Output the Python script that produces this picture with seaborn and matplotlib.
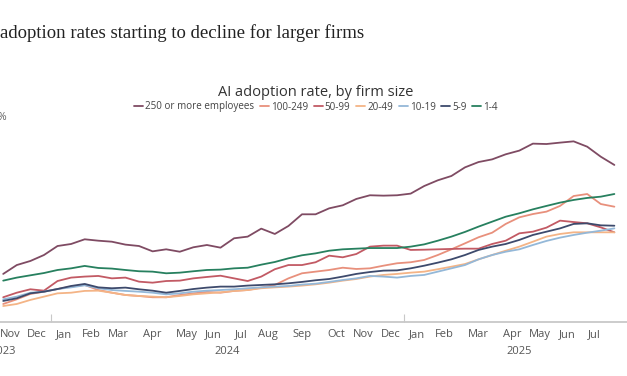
import numpy as np
import pandas as pd
import matplotlib
matplotlib.use("Agg")
import matplotlib.pyplot as plt
import matplotlib.transforms as mtransforms
import seaborn as sns

# biweekly survey points, Nov 2023 - Aug 2025 (values in %)
months = ["Nov", "Dec", "Jan", "Feb", "Mar", "Apr", "May", "Jun", "Jul", "Aug", "Sep",
          "Oct", "Nov", "Dec", "Jan", "Feb", "Mar", "Apr", "May", "Jun", "Jul", "Aug"]
points_per_month = [2, 2, 2, 2, 2, 3, 2, 2, 2, 2, 3, 2, 2, 2, 2, 2, 3, 2, 2, 2, 2, 1]
years = ["2023", "2024", "2025"]
year_centers = [0.0, 16.5, 38.0]

emp_250 = [3.63, 4.33, 4.65, 5.12, 5.83, 5.99, 6.36, 6.25, 6.17, 5.94, 5.83, 5.41, 5.57,
           5.38, 5.73, 5.91, 5.70, 6.44, 6.57, 7.20, 6.78, 7.41, 8.33, 8.33, 8.80, 9.04,
           9.54, 9.83, 9.80, 9.83, 9.96, 10.56, 11.01, 11.35, 12.03, 12.45, 12.66, 13.06,
           13.35, 13.90, 13.87, 13.98, 14.08, 13.66, 12.87, 12.22]
emp_100_249 = [1.26, 1.63, 2.05, 2.23, 2.44, 2.63, 2.76, 2.36, 2.15, 1.97, 1.89, 1.79, 1.79,
               1.97, 2.10, 2.21, 2.15, 2.29, 2.36, 2.55, 2.76, 3.28, 3.68, 3.81, 3.94, 4.12,
               4.02, 4.07, 4.28, 4.47, 4.55, 4.73, 5.12, 5.57, 6.04, 6.52, 6.88, 7.57, 8.09,
               8.35, 8.54, 8.99, 9.77, 9.93, 9.14, 8.93]
emp_50_99 = [1.79, 2.15, 2.42, 2.31, 3.07, 3.34, 3.42, 3.47, 3.28, 3.34, 3.02, 2.94, 3.07,
             3.10, 3.28, 3.39, 3.49, 3.28, 3.07, 3.42, 4.00, 4.33, 4.33, 4.55, 5.07, 4.94,
             5.20, 5.78, 5.86, 5.86, 5.52, 5.54, 5.57, 5.60, 5.62, 5.62, 5.99, 6.25, 6.83,
             6.96, 7.28, 7.83, 7.72, 7.62, 7.30, 6.91]
emp_20_49 = [1.10, 1.26, 1.58, 1.84, 2.10, 2.15, 2.29, 2.31, 2.15, 1.97, 1.89, 1.84, 1.79,
             1.89, 2.02, 2.10, 2.18, 2.29, 2.36, 2.50, 2.57, 2.63, 2.71, 2.81, 2.94, 3.10,
             3.23, 3.42, 3.55, 3.63, 3.73, 3.81, 4.00, 4.20, 4.41, 4.78, 5.12, 5.46, 5.78,
             6.17, 6.57, 6.78, 6.91, 6.91, 6.91, 6.91]
emp_10_19 = [1.63, 1.84, 2.15, 2.23, 2.44, 2.57, 2.73, 2.50, 2.36, 2.29, 2.23, 2.15, 2.02,
             2.10, 2.23, 2.31, 2.36, 2.42, 2.50, 2.57, 2.63, 2.68, 2.79, 2.86, 3.00, 3.15,
             3.28, 3.47, 3.42, 3.34, 3.47, 3.55, 3.81, 4.07, 4.33, 4.78, 5.12, 5.38, 5.57,
             5.91, 6.23, 6.49, 6.70, 6.88, 7.04, 7.22]
emp_5_9 = [1.50, 1.71, 2.10, 2.23, 2.44, 2.68, 2.84, 2.57, 2.50, 2.55, 2.42, 2.31, 2.15,
           2.29, 2.44, 2.55, 2.63, 2.63, 2.71, 2.76, 2.81, 2.89, 3.00, 3.13, 3.23, 3.42,
           3.63, 3.78, 3.89, 3.91, 4.07, 4.28, 4.52, 4.78, 5.12, 5.52, 5.78, 5.99, 6.31,
           6.70, 6.96, 7.22, 7.57, 7.62, 7.46, 7.43]
emp_1_4 = [3.10, 3.34, 3.52, 3.70, 3.94, 4.07, 4.26, 4.10, 4.05, 3.94, 3.84, 3.81, 3.68,
           3.73, 3.84, 3.94, 3.97, 4.07, 4.12, 4.36, 4.57, 4.86, 5.10, 5.25, 5.46, 5.57,
           5.62, 5.67, 5.67, 5.67, 5.78, 5.96, 6.25, 6.57, 6.94, 7.36, 7.75, 8.14, 8.41,
           8.72, 8.99, 9.25, 9.46, 9.62, 9.72, 9.93]

series = {
    "250 or more employees": emp_250,
    "100-249": emp_100_249,
    "50-99": emp_50_99,
    "20-49": emp_20_49,
    "10-19": emp_10_19,
    "5-9": emp_5_9,
    "1-4": emp_1_4,
}
colors = ["#7f4b63", "#e8907c", "#c25a64", "#f4b486", "#94b8d8", "#3d4a6c", "#27805f"]

df = pd.DataFrame(series)
df["period"] = np.arange(len(df))
long = df.melt(id_vars="period", var_name="size", value_name="rate")

sns.set_style("white")
plt.rcParams["font.family"] = ["Open Sans", "DejaVu Sans"]

fig = plt.figure(figsize=(6.27, 3.76), dpi=100)
ax = fig.add_axes([0, 1 - 322 / 376, 1, (322 - 117) / 376])

sns.lineplot(data=long, x="period", y="rate", hue="size", palette=colors,
             hue_order=list(series.keys()), linewidth=1.3, ax=ax)

ax.set_xlim(-0.236, 45.93)
ax.set_ylim(-0.16, 16)
ax.set_xlabel("")
ax.set_ylabel("")
ax.set_yticks([])
for s in ["left", "top", "right"]:
    ax.spines[s].set_visible(False)
ax.spines["bottom"].set_color("#c8c8c8")
ax.spines["bottom"].set_linewidth(1.3)

# month labels at group centres, ticks on group boundaries
edges = np.concatenate([[0], np.cumsum(points_per_month)]) - 0.5
centers = (edges[:-1] + edges[1:]) / 2
ax.set_xticks(centers[:-1])
ax.set_xticklabels(months[:-1], fontsize=8, color="#555555")
ax.tick_params(axis="x", which="major", length=0, pad=5)
ax.set_xticks(edges[1:-1], minor=True)
ax.tick_params(axis="x", which="minor", direction="in", length=3, width=0.8, color="#c8c8c8")

sec = ax.secondary_xaxis("bottom")
sec.set_xticks([edges[2], edges[14]])
sec.set_xticklabels(["", ""])
sec.tick_params(direction="in", length=6, width=0.8, color="#c8c8c8")
sec.spines["bottom"].set_visible(False)

trans = mtransforms.blended_transform_factory(ax.transData, fig.transFigure)
for yr, xc in zip(years, year_centers):
    ax.text(xc, 1 - 352 / 376, yr, transform=trans, ha="center", va="center",
            fontsize=8, color="#555555")

leg = ax.legend(loc="center", bbox_to_anchor=(316 / 627, 1 - 107 / 376),
                bbox_transform=fig.transFigure, ncol=7, frameon=False, fontsize=7.1,
                handlelength=0.9, handletextpad=0.2, columnspacing=0.6, borderpad=0)
for t in leg.get_texts():
    t.set_color("#444444")

fig.text(316 / 627, 1 - 92 / 376, "AI adoption rate, by firm size", ha="center",
         va="center", fontsize=10.5, color="#333333")
fig.text(-3 / 627, 1 - 117 / 376, "%", ha="left", va="center", fontsize=7.5,
         color="#666666")
fig.text(0, 1 - 33 / 376, "adoption rates starting to decline for larger firms",
         ha="left", va="center", fontsize=13.5, color="#222222",
         family=["Liberation Serif", "DejaVu Serif"])

fig.savefig("out.png", dpi=100)
